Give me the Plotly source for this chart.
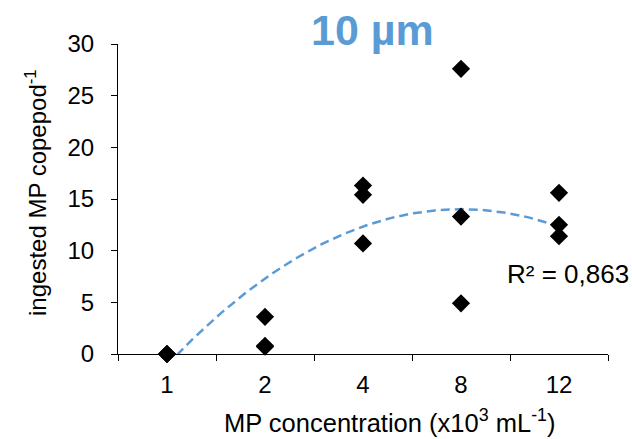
import numpy as np
import plotly.graph_objects as go

# MP concentration categories (x10^3 mL^-1), plotted at equally spaced positions
categories = ["1", "2", "4", "8", "12"]
positions = [1, 2, 3, 4, 5]

# ingested MP per copepod, replicate measurements per concentration
cat_index = [1, 1, 1, 2, 2, 2, 3, 3, 3, 4, 4, 4, 5, 5, 5]
ingested = [0.0, 0.0, 0.0, 3.6, 0.8, 0.7, 16.3, 15.4, 10.7, 27.6, 13.3, 4.9, 15.6, 12.5, 11.4]

# second-order polynomial trendline: a*x^2 + b*x + c
trend_coef = [-1.676, 13.41, -12.81]
r_squared_label = "R² = 0,863"

FONT = "Liberation Sans, Arial, sans-serif"
BLUE = "#5B9BD5"

xs = np.linspace(positions[0], positions[-1], 200)
ys = np.polyval(trend_coef, xs)

fig = go.Figure()
fig.add_trace(go.Scatter(
    x=xs, y=ys, mode="lines",
    line=dict(color=BLUE, width=2.5, dash="9px,5px"),
    hoverinfo="skip", showlegend=False,
))
fig.add_trace(go.Scatter(
    x=cat_index, y=ingested, mode="markers",
    marker=dict(symbol="diamond", size=14, color="black", line=dict(width=0)),
    cliponaxis=False, showlegend=False,
))

fig.update_layout(
    width=632, height=439,
    margin=dict(l=118, r=24, t=44, b=85),
    paper_bgcolor="white", plot_bgcolor="white",
    font=dict(family=FONT, size=24, color="black"),
    xaxis=dict(
        range=[0.5, 5.5], tickmode="array", tickvals=positions, ticktext=categories,
        ticks="", showline=True, linecolor="black", linewidth=1,
        showgrid=False, zeroline=False,
        minor=dict(tickmode="array", tickvals=[0.5, 1.5, 2.5, 3.5, 4.5, 5.5],
                   ticks="outside", ticklen=6, tickcolor="black", tickwidth=1,
                   showgrid=False),
        tickfont=dict(size=24), ticklabelstandoff=9,
    ),
    yaxis=dict(
        range=[0, 30], tickmode="array", tickvals=[0, 5, 10, 15, 20, 25, 30],
        ticks="outside", ticklen=6, tickcolor="black", tickwidth=1,
        showline=True, linecolor="black", linewidth=1,
        showgrid=False, zeroline=False, tickfont=dict(size=24),
        ticklabelstandoff=12,
    ),
    annotations=[
        dict(text="<b>10 µm</b>", x=0.52, y=1.045, xref="paper", yref="paper",
             xanchor="center", yanchor="middle", showarrow=False,
             font=dict(size=43, color=BLUE, family=FONT)),
        dict(text="ingested MP copepod<sup>-1</sup>", x=-0.167, y=0.52,
             xref="paper", yref="paper", textangle=-90,
             xanchor="center", yanchor="middle", showarrow=False,
             font=dict(size=24)),
        dict(text="MP concentration (x10<sup>3</sup> mL<sup>-1</sup>)", x=0.555, y=-0.215,
             xref="paper", yref="paper", xanchor="center", yanchor="middle",
             showarrow=False, font=dict(size=25.5)),
        dict(text=r_squared_label, x=0.79, y=0.258, xref="paper", yref="paper",
             xanchor="left", yanchor="middle", showarrow=False,
             font=dict(size=26)),
    ],
)

fig.write_html("out.html")
